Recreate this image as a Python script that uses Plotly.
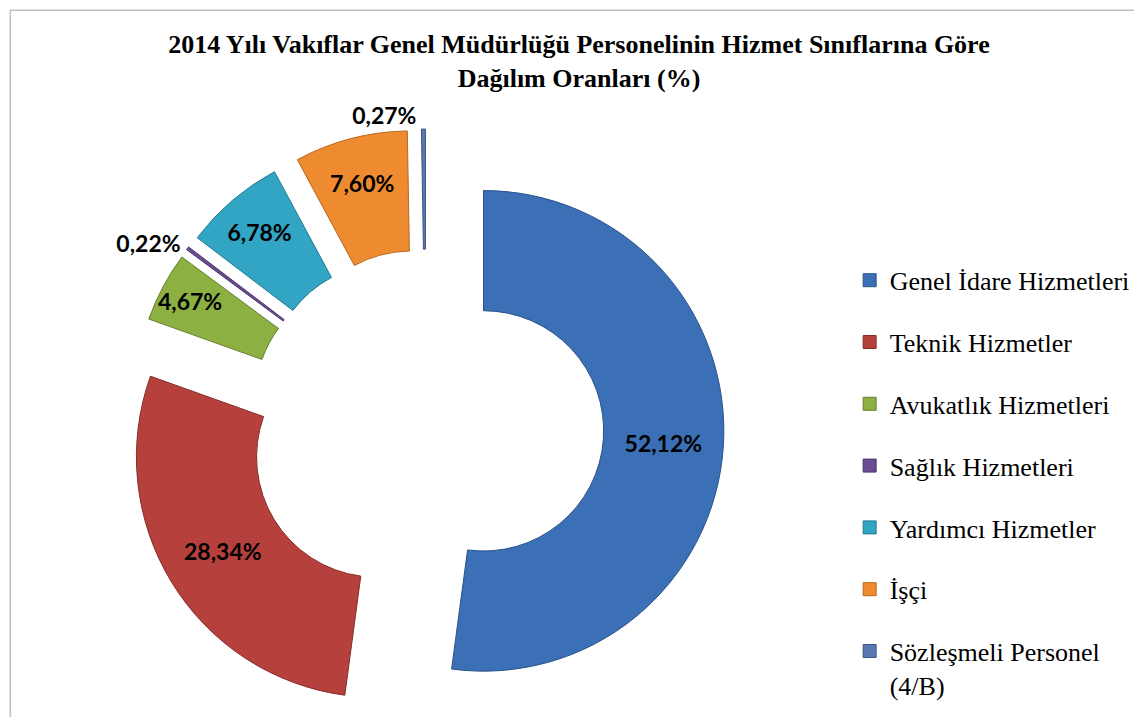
import plotly.graph_objects as go

# data
labels = ["Genel İdare Hizmetleri", "Teknik Hizmetler", "Avukatlık Hizmetleri",
          "Sağlık Hizmetleri", "Yardımcı Hizmetler", "İşçi",
          "Sözleşmeli Personel (4/B)"]
legend_labels = ["Genel İdare Hizmetleri", "Teknik Hizmetler", "Avukatlık Hizmetleri",
                 "Sağlık Hizmetleri", "Yardımcı Hizmetler", "İşçi",
                 "Sözleşmeli Personel<br>(4/B)"]
shares = [52.12, 28.34, 4.67, 0.22, 6.78, 7.60, 0.27]

# styles
colors = ["#3B6FB6", "#B5403C", "#8DB043", "#6A4C93", "#32A5C4", "#EE8A2F", "#5A78B0"]
edge_colors = ["#2A528A", "#862C29", "#66812E", "#4B3569", "#227A92", "#B9661D", "#3E5684"]
text_pos = ["inside", "inside", "inside", "outside", "inside", "inside", "outside"]

fig = go.Figure()

fig.add_trace(go.Pie(
    labels=labels,
    values=shares,
    hole=0.5,
    pull=[0.24] * len(shares),
    sort=False,
    direction="clockwise",
    rotation=0,
    marker=dict(colors=colors, line=dict(color=edge_colors, width=1)),
    texttemplate="%{value:.2f}%",
    textposition=text_pos,
    insidetextorientation="horizontal",
    textfont=dict(family="Lato", size=23, color="black", weight="bold"),
    showlegend=False,
    domain=dict(x=[0.1033, 0.6287], y=[0, 0.8312]),
))

# legend entries, one group each so the spacing can be set
for name, col, edge in zip(legend_labels, colors, edge_colors):
    fig.add_trace(go.Scatter(
        x=[None], y=[None], mode="markers", name=name, legendgroup=name,
        marker=dict(symbol="square", size=13, color=col, line=dict(color=edge, width=1)),
    ))

fig.update_layout(
    width=1142, height=717,
    margin=dict(l=0, r=0, t=0, b=0, autoexpand=False),
    paper_bgcolor="white", plot_bgcolor="white",
    separators=",.",
    uniformtext=dict(minsize=23, mode="show"),
    title=dict(
        text="<b>2014 Yılı Vakıflar Genel Müdürlüğü Personelinin Hizmet Sınıflarına Göre<br>Dağılım Oranları (%)</b>",
        x=0.5, xanchor="center", y=0.937, yanchor="top",
        font=dict(family="Liberation Serif", size=26, color="black"),
    ),
    legend=dict(
        x=0.737, xanchor="left", y=0.653, yanchor="top",
        font=dict(family="Liberation Serif", size=26, color="black"),
        tracegroupgap=25, valign="top", bgcolor="rgba(0,0,0,0)", maxheight=1,
    ),
    xaxis=dict(visible=False),
    yaxis=dict(visible=False),
    shapes=[dict(type="rect", xref="paper", yref="paper", x0=0.002, x1=0.998, y0=0, y1=0.997,
                 line=dict(color="#BFBFBF", width=1.5))],
)

fig.write_html("out.html")
